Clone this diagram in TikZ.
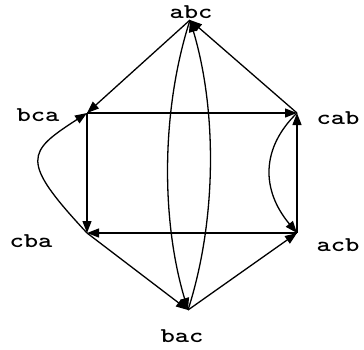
\documentclass[tikz,border=0pt]{standalone}
\usepackage{fontspec}
\newfontfamily\lblfont{lmmonolt10-bold}[Extension=.otf, FakeStretch=1.3]
\usetikzlibrary{arrows.meta}
\tikzset{
  every picture/.style={line width=1.3pt},
  lbl/.style={font=\lblfont\fontsize{21}{21}\selectfont, inner sep=0pt},
  arrow/.style={-{Triangle[length=12pt, width=9pt]}},
}
\begin{document}
\begin{tikzpicture}[x=1pt, y=-1pt]
  \useasboundingbox (0,0) rectangle (364,349);
  % states
  \coordinate (abc) at (190,20);
  \coordinate (bca) at (87,113);
  \coordinate (cab) at (297,113);
  \coordinate (cba) at (87,233);
  \coordinate (acb) at (297,233);
  \coordinate (bac) at (188,310);
  % names
  \node[lbl] (abc-l) at (191,12) {abc};
  \node[lbl] (bca-l) at (38,115) {bca};
  \node[lbl] (cab-l) at (338,118) {cab};
  \node[lbl] (cba-l) at (31,241) {cba};
  \node[lbl] (acb-l) at (338,245) {acb};
  \node[lbl] (bac-l) at (182,336) {bac};
  % moves
  \draw[arrow] (abc) -- (bca);
  \draw[arrow] (cab) -- (abc);
  \draw[arrow] (bca) -- (cab);
  \draw[arrow] (bca) -- (cba);
  \draw[arrow] (acb) -- (cba);
  \draw[arrow] (acb) -- (cab);
  \draw[arrow] (cba) -- (bac);
  \draw[arrow] (bac) -- (acb);
  \draw[arrow] (cab) .. controls (261,148) and (261,190) .. (acb);
  \draw[arrow] (cba) .. controls (19,160) and (27,152) .. (bca);
  \draw[arrow] (abc) .. controls (161,110) and (161,220) .. (bac);
  \draw[arrow] (bac) .. controls (217,220) and (217,110) .. (abc);
\end{tikzpicture}
\end{document}
